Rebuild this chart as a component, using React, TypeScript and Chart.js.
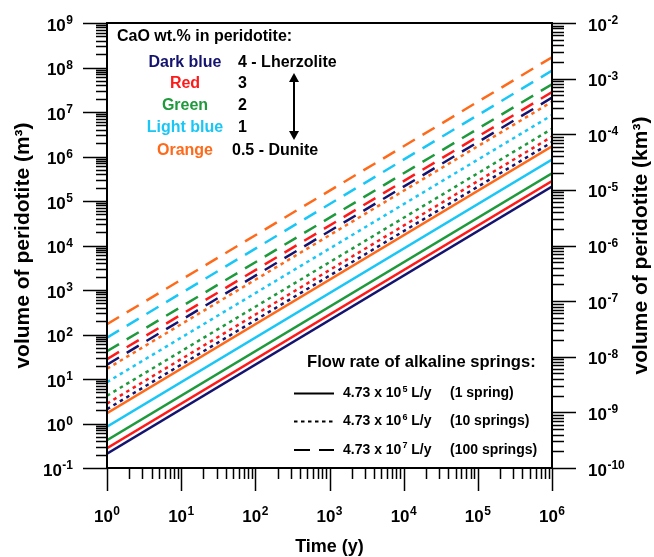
import { useEffect, useRef } from "react";
import { Chart, registerables } from "chart.js";

Chart.register(...registerables);

const FONT = '"Liberation Sans", Arial, Helvetica, sans-serif';

// Time range (years)
const timeStart = 1;
const timeEnd = 1e6;

// Order: Dark blue, Red, Green, Light blue, Orange
const colorNames = ["Dark blue", "Red", "Green", "Light blue", "Orange"];
const caoLabels = ["4 - Lherzolite", "3", "2", "1", "0.5 - Dunite"];
const lineColors = ["#141470", "#ff1a1a", "#1e9a3c", "#19c6f5", "#ff6a1a"];

// 1 spring (solid)
const solidStart = [0.21, 0.28, 0.42, 0.85, 1.7];
const solidEnd = [2.1e5, 2.8e5, 4.2e5, 8.5e5, 1.7e6];
// 10 springs (dotted)
const dottedStart = [2.1, 2.8, 4.2, 8.5, 17];
const dottedEnd = [2.1e6, 2.8e6, 4.2e6, 8.5e6, 1.7e7];
// 100 springs (dashed)
const dashedStart = [21, 28, 42, 85, 170];
const dashedEnd = [2.1e7, 2.8e7, 4.2e7, 8.5e7, 1.7e8];

// Axis decades
const xExps = [0, 1, 2, 3, 4, 5, 6];
const yLeftExps = [-1, 0, 1, 2, 3, 4, 5, 6, 7, 8, 9];
const yRightExps = [-10, -9, -8, -7, -6, -5, -4, -3, -2];

const legendFlowLabels = ["4.73 x 10", "4.73 x 10", "4.73 x 10"];
const legendFlowExps = ["5", "6", "7"];
const legendSpringLabels = ["(1 spring)", "(10 springs)", "(100 springs)"];

function drawPow(ctx: CanvasRenderingContext2D, exp: string, x: number, cy: number, align: string) {
  ctx.font = `bold 17px ${FONT}`;
  const wb = ctx.measureText("10").width;
  ctx.font = `bold 12px ${FONT}`;
  const we = ctx.measureText(exp).width;
  const total = wb + we + 0.5;
  let x0 = x;
  if (align === "right") x0 = x - total;
  else if (align === "center") x0 = x - total / 2;
  ctx.textAlign = "left";
  ctx.textBaseline = "alphabetic";
  ctx.fillStyle = "#000";
  ctx.font = `bold 17px ${FONT}`;
  ctx.fillText("10", x0, cy + 6);
  ctx.font = `bold 12px ${FONT}`;
  ctx.fillText(exp, x0 + wb + 0.5, cy - 0.5);
}

const decorPlugin = {
  id: "decor",
  afterDraw(chart: any) {
    const ctx: CanvasRenderingContext2D = chart.ctx;
    const { left, right, top, bottom } = chart.chartArea;
    const xs = chart.scales.x;
    const yl = chart.scales.y;
    const yr = chart.scales.y2;
    ctx.save();
    ctx.strokeStyle = "#000";
    ctx.fillStyle = "#000";
    // frame
    ctx.lineWidth = 2;
    ctx.strokeRect(left, top, right - left, bottom - top);
    // ticks
    ctx.lineWidth = 1.5;
    ctx.beginPath();
    yLeftExps.forEach((e, i) => {
      const p = Math.round(yl.getPixelForValue(Math.pow(10, e))) + 0.5;
      ctx.moveTo(left - 24, p);
      ctx.lineTo(left, p);
      if (i < yLeftExps.length - 1) {
        for (let k = 2; k <= 9; k++) {
          const q = Math.round(yl.getPixelForValue(k * Math.pow(10, e))) + 0.5;
          ctx.moveTo(left - 11, q);
          ctx.lineTo(left, q);
        }
      }
    });
    yRightExps.forEach((e, i) => {
      const p = Math.round(yr.getPixelForValue(Math.pow(10, e))) + 0.5;
      ctx.moveTo(right, p);
      ctx.lineTo(right + 24, p);
      if (i < yRightExps.length - 1) {
        for (let k = 2; k <= 9; k++) {
          const q = Math.round(yr.getPixelForValue(k * Math.pow(10, e))) + 0.5;
          ctx.moveTo(right, q);
          ctx.lineTo(right + 12, q);
        }
      }
    });
    xExps.forEach((e, i) => {
      const p = Math.round(xs.getPixelForValue(Math.pow(10, e))) + 0.5;
      ctx.moveTo(p, bottom);
      ctx.lineTo(p, bottom + 23);
      if (i < xExps.length - 1) {
        for (let k = 2; k <= 9; k++) {
          const q = Math.round(xs.getPixelForValue(k * Math.pow(10, e))) + 0.5;
          ctx.moveTo(q, bottom);
          ctx.lineTo(q, bottom + 11);
        }
      }
    });
    ctx.stroke();

    // tick labels
    yLeftExps.forEach((e) => {
      drawPow(ctx, String(e), left - 34, yl.getPixelForValue(Math.pow(10, e)) + 1.5, "right");
    });
    yRightExps.forEach((e) => {
      drawPow(ctx, String(e), right + 36, yr.getPixelForValue(Math.pow(10, e)) + 1.5, "left");
    });
    xExps.forEach((e) => {
      drawPow(ctx, String(e), xs.getPixelForValue(Math.pow(10, e)), 515.5, "center");
    });

    // axis titles
    ctx.font = `bold 18px ${FONT}`;
    ctx.textAlign = "center";
    ctx.textBaseline = "middle";
    ctx.fillText("Time (y)", (left + right) / 2, 547);
    ctx.font = `bold 21px ${FONT}`;
    ctx.save();
    ctx.translate(23, (top + bottom) / 2);
    ctx.rotate(-Math.PI / 2);
    ctx.fillText("volume of peridotite (m\u00b3)", 0, 0);
    ctx.restore();
    ctx.save();
    ctx.translate(641, (top + bottom) / 2);
    ctx.rotate(-Math.PI / 2);
    ctx.fillText("volume of peridotite (km\u00b3)", 0, 0);
    ctx.restore();

    // CaO legend
    ctx.font = `bold 16px ${FONT}`;
    ctx.textAlign = "left";
    ctx.fillStyle = "#000";
    ctx.fillText("CaO wt.% in peridotite:", 117, 37);
    const rowsY = [63, 84, 105.5, 127.5, 151];
    colorNames.forEach((n, i) => {
      ctx.textAlign = "center";
      ctx.fillStyle = lineColors[i];
      ctx.fillText(n, 185, rowsY[i]);
      ctx.textAlign = "left";
      ctx.fillStyle = "#000";
      ctx.fillText(caoLabels[i], i === 4 ? 232 : 238, rowsY[i]);
    });
    // double arrow
    ctx.lineWidth = 2;
    ctx.beginPath();
    ctx.moveTo(294, 80);
    ctx.lineTo(294, 133);
    ctx.stroke();
    ctx.beginPath();
    ctx.moveTo(294, 73);
    ctx.lineTo(289, 82);
    ctx.lineTo(299, 82);
    ctx.closePath();
    ctx.fill();
    ctx.beginPath();
    ctx.moveTo(294, 140);
    ctx.lineTo(289, 131);
    ctx.lineTo(299, 131);
    ctx.closePath();
    ctx.fill();

    // flow legend
    ctx.font = `bold 16.6px ${FONT}`;
    ctx.textAlign = "left";
    ctx.fillText("Flow rate of alkaline springs:", 307, 362);
    const lrows = [393.5, 421.5, 450];
    const dashes = [[], [3.5, 3.5], [16, 9]];
    lrows.forEach((yy, i) => {
      ctx.lineWidth = 2;
      ctx.setLineDash(dashes[i]);
      ctx.beginPath();
      ctx.moveTo(294, yy);
      ctx.lineTo(334, yy);
      ctx.stroke();
      ctx.setLineDash([]);
      ctx.font = `bold 14px ${FONT}`;
      ctx.fillText(legendFlowLabels[i], 343, yy);
      const w = ctx.measureText(legendFlowLabels[i]).width;
      ctx.font = `bold 9px ${FONT}`;
      ctx.fillText(legendFlowExps[i], 343 + w + 1, yy - 4);
      const we = ctx.measureText(legendFlowExps[i]).width;
      ctx.font = `bold 14px ${FONT}`;
      ctx.fillText(" L/y", 343 + w + 1 + we, yy);
      ctx.fillText(legendSpringLabels[i], 450, yy);
    });
    ctx.restore();
  },
};

export default function App() {
  const ref = useRef<HTMLCanvasElement | null>(null);
  useEffect(() => {
    if (!ref.current) return;
    const datasets: any[] = [];
    const groups = [
      { s: dashedStart, e: dashedEnd, dash: [14, 9], name: "100 springs" },
      { s: dottedStart, e: dottedEnd, dash: [3.5, 4], name: "10 springs" },
      { s: solidStart, e: solidEnd, dash: [], name: "1 spring" },
    ];
    groups.forEach((g) => {
      colorNames.forEach((c, i) => {
        datasets.push({
          label: `${c} - ${g.name}`,
          data: [
            { x: timeStart, y: g.s[i] },
            { x: timeEnd, y: g.e[i] },
          ],
          borderColor: lineColors[i],
          borderWidth: 2.5,
          borderDash: g.dash,
          pointRadius: 0,
          fill: false,
          yAxisID: "y",
        });
      });
    });
    const chart = new Chart(ref.current, {
      type: "line",
      data: { datasets },
      options: {
        animation: false,
        responsive: false,
        devicePixelRatio: 1,
        layout: { padding: { left: 107, right: 102, top: 23, bottom: 89 } },
        plugins: { legend: { display: false }, tooltip: { enabled: false } },
        scales: {
          x: { type: "logarithmic", min: 1, max: 1e6, display: false },
          y: { type: "logarithmic", min: 0.1, max: 1e9, display: false, position: "left" },
          y2: { type: "logarithmic", min: 1e-10, max: 1e-2, display: false, position: "right" },
        },
      },
      plugins: [decorPlugin],
    });
    return () => chart.destroy();
  }, []);
  return (
    <div style={{ position: "absolute", left: 0, top: 0, width: 654, height: 557, background: "#fff" }}>
      <canvas ref={ref} width={654} height={557} style={{ display: "block" }} />
    </div>
  );
}
